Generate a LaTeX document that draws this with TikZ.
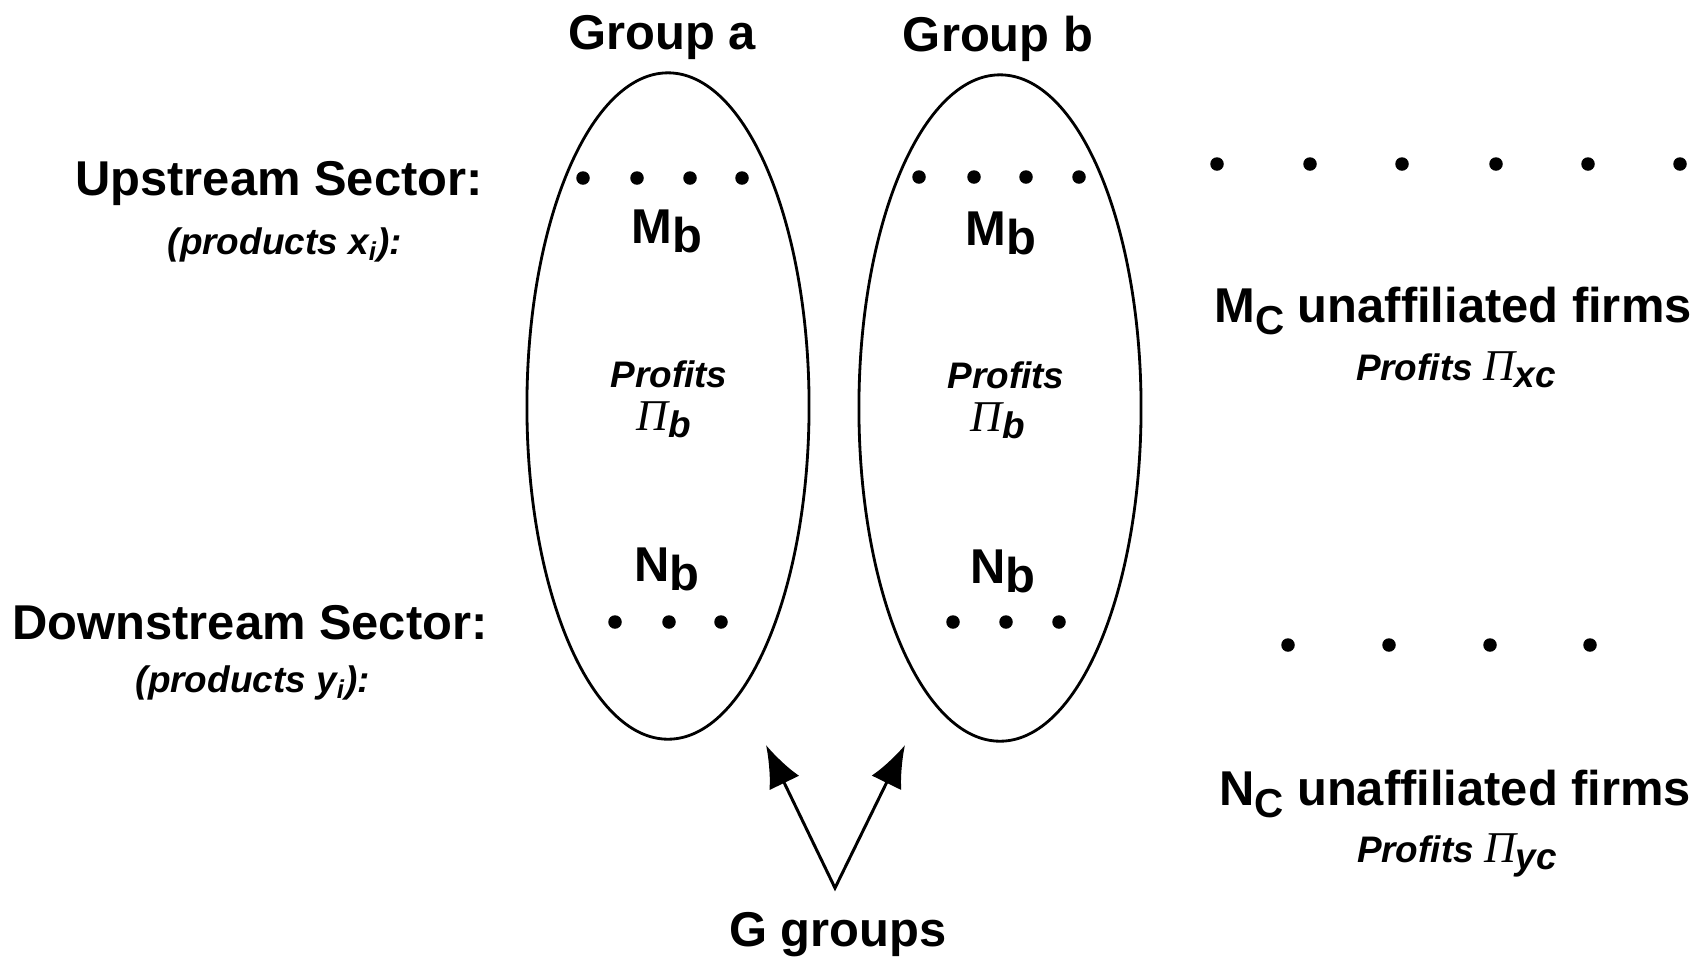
\documentclass[tikz,border=0pt]{standalone}
\usepackage{fontspec}
\setmainfont{Liberation Sans}
\newfontfamily\pifont{Liberation Serif}
\usetikzlibrary{shapes.geometric,arrows.meta}
\newcommand{\PiSym}{{\pifont\mdseries\itshape\fontsize{12.5}{14}\selectfont Π}}
\newcommand{\subb}[1]{\raisebox{-2.6pt}{#1}}
\begin{document}
\begin{tikzpicture}[x=0.01cm,y=-0.01cm,
  big/.style={font=\bfseries\fontsize{13.9}{16}\selectfont, inner sep=0},
  small/.style={font=\bfseries\itshape\fontsize{10.5}{12}\selectfont, inner sep=0},
  firm/.style={circle, fill=black, inner sep=0, minimum size=0.135cm},
  grp/.style={draw, ellipse, line width=0.8pt, minimum width=2.82cm, minimum height=6.66cm, inner sep=0},
  conn/.style={line width=0.85pt, {Latex[length=4.2mm,width=3.3mm]}-{Latex[length=4.2mm,width=3.3mm]}}]
\useasboundingbox (0,0) rectangle (1702,959);

% groups
\node[grp] (ga) at (668,406) {};
\node[grp] (gb) at (1000,408) {};
\node[big] (tga) at (662,37) {Group a};
\node[big] (tgb) at (998,39) {Group b};

% sector labels
\node[big] (up) at (279,183) {Upstream Sector:};
\node[small] (upx) at (285,245) {(products x\textsubscript{i}):};
\node[big] (down) at (250,623) {Downstream Sector:};
\node[small] (downy) at (253,683) {(products y\textsubscript{i}):};

% upstream dots in groups
\foreach \x [count=\i] in {583,637,690,742} \node[firm] (ua\i) at (\x,178) {};
\foreach \x [count=\i] in {919,974,1026,1079} \node[firm] (ub\i) at (\x,177) {};
% downstream dots in groups
\foreach \x [count=\i] in {615,669,721} \node[firm] (da\i) at (\x,622) {};
\foreach \x [count=\i] in {953,1006,1059} \node[firm] (db\i) at (\x,622) {};
% unaffiliated dots
\foreach \x [count=\i] in {1217,1310,1402,1496,1588,1680} \node[firm] (uc\i) at (\x,164) {};
\foreach \x [count=\i] in {1288,1389,1490,1590} \node[firm] (dc\i) at (\x,645) {};

% group contents
\node[big] (mba) at (667,231) {M\subb{b}};
\node[big] (mbb) at (1001,233) {M\subb{b}};
\node[small] (pra) at (669,374) {Profits};
\node[small] (prb) at (1006,375) {Profits};
\node[small] (pia) at (664,420) {\PiSym\raisebox{-2pt}{b}};
\node[small] (pib) at (998,421) {\PiSym\raisebox{-2pt}{b}};
\node[big] (nba) at (667,569) {N\subb{b}};
\node[big] (nbb) at (1003,571) {N\subb{b}};

% unaffiliated labels
\node[big] (mc) at (1453,311) {M\raisebox{-3.5pt}{\fontsize{11.5}{12}\selectfont C} unaffiliated firms};
\node[small] (pxc) at (1456,370) {Profits \PiSym\raisebox{-2pt}{xc}};
\node[big] (nc) at (1455,794) {N\raisebox{-3.5pt}{\fontsize{11.5}{12}\selectfont C} unaffiliated firms};
\node[small] (pyc) at (1457,855) {Profits \PiSym\raisebox{-2pt}{yc}};

% G groups
\node[big] (gg) at (838,935) {G groups};
\coordinate (apex) at (835,888);
\coordinate (tipa) at (766,745);
\coordinate (tipb) at (905,745);
\draw[conn] (tipa) -- (apex) -- (tipb);
\end{tikzpicture}
\end{document}
